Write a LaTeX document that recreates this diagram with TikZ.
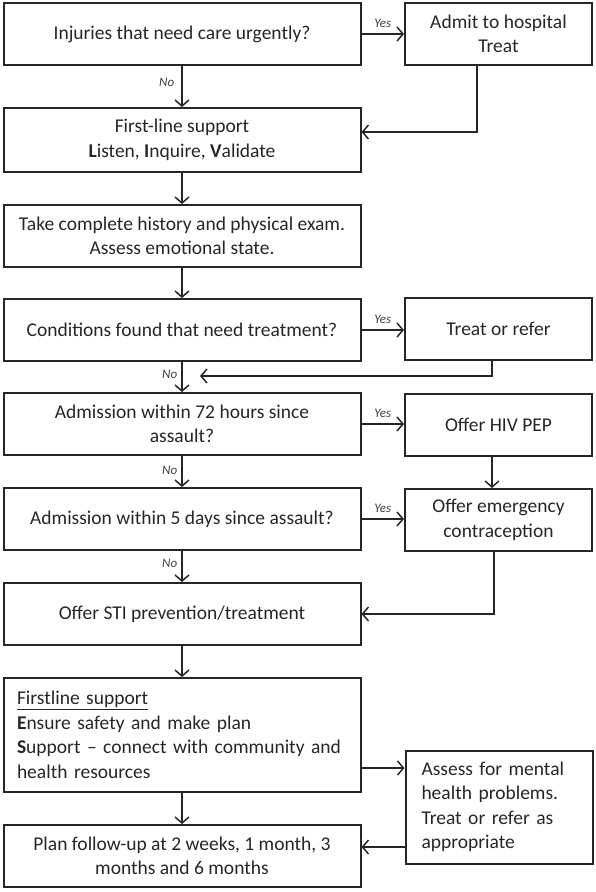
\documentclass[tikz,border=0pt]{standalone}
\usepackage{fontspec}
\setmainfont{Carlito}
\usetikzlibrary{arrows.meta}
\newcommand{\boxfont}{\fontsize{19.5}{24.5}\selectfont}
\tikzstyle{leftbox} = [draw, line width=2pt, color=black!85, text=black!85, minimum width=357pt, minimum height=62pt, align=center, inner sep=0pt, font=\boxfont]
\tikzstyle{rightbox} = [draw, line width=2pt, color=black!85, text=black!85, minimum width=187pt, minimum height=62pt, align=center, inner sep=0pt, font=\boxfont]
\tikzstyle{arrow} = [draw, line width=1.5pt, color=black!85, -{Straight Barb[length=6pt,width=14pt]}]
\tikzstyle{answer} = [font=\itshape\fontsize{13}{13}\selectfont, text=black!75, inner sep=1pt]
\newcommand{\leftblock}[2]{node (l#1) [leftbox] {#2}}
\newcommand{\rightblock}[2]{node (r#1) [rightbox] {#2}}

\begin{document}
\begin{tikzpicture}[x=1pt,y=1pt]
\useasboundingbox (0,0) rectangle (596,-892);
\path (182,-34) \leftblock{1}{Injuries that need care urgently?};
\path (l1)+(316.5,0) \rightblock{1}{Admit to hospital\\Treat};
\path (l1)+(0,-106) node (l2) [leftbox, minimum height=64pt] {First-line support\\\textbf{L}isten, \textbf{I}nquire, \textbf{V}alidate};
\path (l2)+(0,-96) \leftblock{3}{Take complete history and physical exam.\\Assess emotional state.};
\path (l3)+(0,-94) \leftblock{4}{Conditions found that need treatment?};
\path (l4)+(316.5,1) \rightblock{2}{Treat or refer};
\path (l4)+(0,-94) \leftblock{5}{Admission within 72 hours since\\assault?};
\path (l5)+(316.5,-1) \rightblock{3}{Offer HIV PEP};
\path (l5)+(0,-95) \leftblock{6}{Admission within 5 days since assault?};
\path (l6)+(316.5,-1) \rightblock{4}{Offer emergency\\contraception};
\path (l6)+(0,-95) \leftblock{7}{Offer STI prevention/treatment};
\path (l7)+(0,-121) node (l8) [leftbox, minimum height=114pt, align=left, text width=330pt] {\underline{Firstline support}\\\textbf{E}nsure safety and make plan\\\textbf{S}upport -- connect with community and\\health resources};
\path (l8)+(0,-121) \leftblock{9}{Plan follow-up at 2 weeks, 1 month, 3\\months and 6 months};
\path (l8)+(317,-72) node (r5) [rightbox, minimum height=113pt, align=left, text width=155pt] {Assess for mental\\health problems.\\Treat or refer as\\appropriate};

\path (l5.north)+(18,16) coordinate (j1);

\path [arrow] (l1.east) -- (r1.west) node[answer, midway, above=5pt] {Yes};
\path [arrow] (l1.south) -- (l2.north) node[answer, pos=0.4, left=6pt] {No};
\path [arrow] ([xshift=-21.5pt]r1.south) |- ([yshift=8pt]l2.east);
\path [arrow] (l2.south) -- (l3.north);
\path [arrow] (l3.south) -- (l4.north);
\path [arrow] (l4.east) -- (l4.east -| r2.west) node[answer, midway, above=5pt] {Yes};
\path [arrow] ([xshift=-6.5pt]r2.south) |- (j1);
\path [arrow] (l4.south) -- (l5.north) node[answer, pos=0.4, left=3pt] {No};
\path [arrow] (l5.east) -- (l5.east -| r3.west) node[answer, midway, above=5pt] {Yes};
\path [arrow] ([xshift=-6.5pt]r3.south) -- ([xshift=-6.5pt]r4.north);
\path [arrow] (l5.south) -- (l6.north) node[answer, pos=0.45, left=3pt] {No};
\path [arrow] (l6.east) -- (l6.east -| r4.west) node[answer, midway, above=5pt] {Yes};
\path [arrow] ([xshift=-4.5pt]r4.south) |- (l7.east);
\path [arrow] (l6.south) -- (l7.north) node[answer, pos=0.4, left=3pt] {No};
\path [arrow] (l7.south) -- (l8.north);
\path [arrow] ([yshift=-33pt]l8.east) -- ([yshift=-33pt]l8.east -| r5.west);
\path [arrow] (l8.south) -- (l9.north);
\path [arrow] ([yshift=9pt]l9.east -| r5.west) -- ([yshift=9pt]l9.east);
\end{tikzpicture}
\end{document}
